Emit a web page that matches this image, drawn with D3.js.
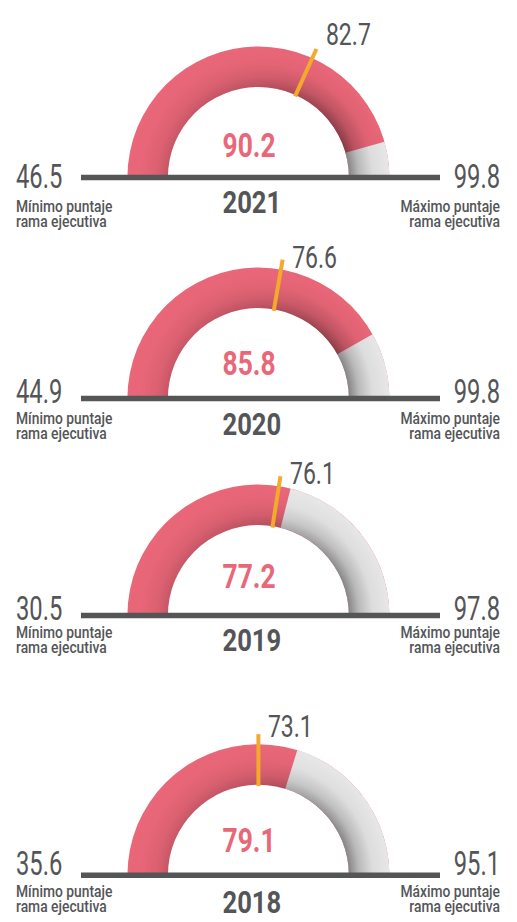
<!DOCTYPE html>
<html><head><meta charset="utf-8">
<script src="https://cdn.jsdelivr.net/npm/d3@7"></script>
<style>
html,body{margin:0;padding:0;background:#fff;}
svg{display:block;}
text{font-family:Roboto,"Open Sans",sans-serif;}
</style>
</head><body>
<svg id="chart" width="517" height="922"></svg>
<script>
// ---- data ----
const years = ["2021", "2020", "2019", "2018"];
const scores = [90.2, 85.8, 77.2, 79.1];            // red figure in the middle
const referenceScores = [82.7, 76.6, 76.1, 73.1];   // orange marker label
const minScores = [46.5, 44.9, 30.5, 35.6];         // left end label
const maxScores = [99.8, 99.8, 97.8, 95.1];         // right end label
// share of the half dial filled in red / position of the orange marker, as drawn
const dialFill = [0.912, 0.837, 0.579, 0.596];
const dialMarker = [0.635, 0.555, 0.55, 0.5];
const minCaption = ["Mínimo puntaje", "rama ejecutiva"];
const maxCaption = ["Máximo puntaje", "rama ejecutiva"];

// ---- layout ----
const layout = [
  {ly: 177.5, num: 188,   sub1: 212,   sub2: 226.7, year: 213,   val: 157,   lab: 45},
  {ly: 398.5, num: 403,   sub1: 424,   sub2: 438.5, year: 435,   val: 375,   lab: 268},
  {ly: 615.5, num: 620,   sub1: 638,   sub2: 653,   year: 650.7, val: 588,   lab: 484},
  {ly: 875.2, num: 875,   sub1: 896.7, sub2: 912.3, year: 912.7, val: 851.7, lab: 736.7}
];
const cx = 258.4, R = 131, r0 = 90.5;
const RED = "#E96778", GRAY = "#E7E7E7", DARK = "#545557", ORANGE = "#F4A92C";

const svg = d3.select("#chart");
const defs = svg.append("defs");
const dial = d3.scaleLinear().domain([0, 1]).range([-Math.PI / 2, Math.PI / 2]);
const arc = d3.arc().innerRadius(r0).outerRadius(R);
const fmt = d3.format(".1f");

// shading gradients
const rg = defs.append("radialGradient").attr("id", "shade")
  .attr("gradientUnits", "userSpaceOnUse").attr("cx", 0).attr("cy", 0).attr("r", R);
[[r0 / R, 0.42], [(r0 + 10) / R, 0.2], [(r0 + 24) / R, 0.04], [1, 0]].forEach(([o, a]) =>
  rg.append("stop").attr("offset", o).attr("stop-color", "#000").attr("stop-opacity", a));
const lg = defs.append("linearGradient").attr("id", "maskGrad")
  .attr("gradientUnits", "userSpaceOnUse")
  .attr("x1", -R).attr("y1", -R).attr("x2", R).attr("y2", 0);
[[0, "#1a1a1a"], [0.45, "#777"], [0.8, "#fff"], [1, "#fff"]].forEach(([o, c]) =>
  lg.append("stop").attr("offset", o).attr("stop-color", c));
const mask = defs.append("mask").attr("id", "shadeMask").attr("maskUnits", "userSpaceOnUse")
  .attr("x", -R - 5).attr("y", -R - 5).attr("width", 2 * R + 10).attr("height", R + 10);
mask.append("rect").attr("x", -R - 5).attr("y", -R - 5).attr("width", 2 * R + 10).attr("height", R + 10)
  .attr("fill", "url(#maskGrad)");

function txt(g, x, y, s, o) {
  return g.append("text")
    .attr("transform", `translate(${x},${y}) scale(${o.sx},1)`)
    .attr("text-anchor", o.anchor || "start")
    .attr("font-size", o.size)
    .attr("font-weight", o.weight || 400)
    .attr("fill", o.fill || DARK)
    .text(s);
}
function caption(g, x, y1, y2, lines, anchor) {
  const t = g.append("text")
    .attr("transform", `translate(${x},${y1}) scale(0.84,1)`)
    .attr("text-anchor", anchor)
    .attr("font-size", 16.5)
    .attr("font-weight", 500)
    .attr("fill", DARK);
  t.append("tspan").attr("x", 0).attr("y", 0).text(lines[0]);
  t.append("tspan").attr("x", 0).attr("y", y2 - y1).text(lines[1]);
}

years.forEach((yr, i) => {
  const L = layout[i];
  const root = svg.append("g");
  const g = root.append("g").attr("transform", `translate(${cx},${L.ly})`);

  // full ring in red, then the unfilled part in gray
  g.append("path").attr("d", arc({startAngle: dial(0), endAngle: dial(1)})).attr("fill", RED);
  g.append("path").attr("d", arc({startAngle: dial(dialFill[i]), endAngle: dial(1)})).attr("fill", GRAY);
  // inner shadow
  g.append("path").attr("d", arc({startAngle: dial(0), endAngle: dial(1)}))
    .attr("fill", "url(#shade)").attr("mask", "url(#shadeMask)");

  // orange marker
  const a = dial(dialMarker[i]);
  const p1 = [89 * Math.sin(a), -89 * Math.cos(a)];
  const p2 = [141 * Math.sin(a), -141 * Math.cos(a)];
  g.append("line").attr("x1", p1[0]).attr("y1", p1[1]).attr("x2", p2[0]).attr("y2", p2[1])
    .attr("stroke", ORANGE).attr("stroke-width", 4);

  // base line
  g.append("line").attr("x1", 81 - cx).attr("x2", 440 - cx).attr("y1", 0).attr("y2", 0)
    .attr("stroke", DARK).attr("stroke-width", 5.5);

  // texts
  txt(root, cx + p2[0] + 9.5, L.lab, fmt(referenceScores[i]), {size: 32, sx: 0.72});
  txt(root, 16, L.num, fmt(minScores[i]), {size: 33, sx: 0.72});
  txt(root, 500, L.num, fmt(maxScores[i]), {size: 33, sx: 0.72, anchor: "end"});
  caption(root, 16, L.sub1, L.sub2, minCaption, "start");
  caption(root, 500, L.sub1, L.sub2, maxCaption, "end");
  txt(root, 222.5, L.year, yr, {size: 32, sx: 0.8, weight: 700});
  txt(root, 222.5, L.val, fmt(scores[i]), {size: 33, sx: 0.8, weight: 700, fill: RED});
});
</script>
</body></html>
